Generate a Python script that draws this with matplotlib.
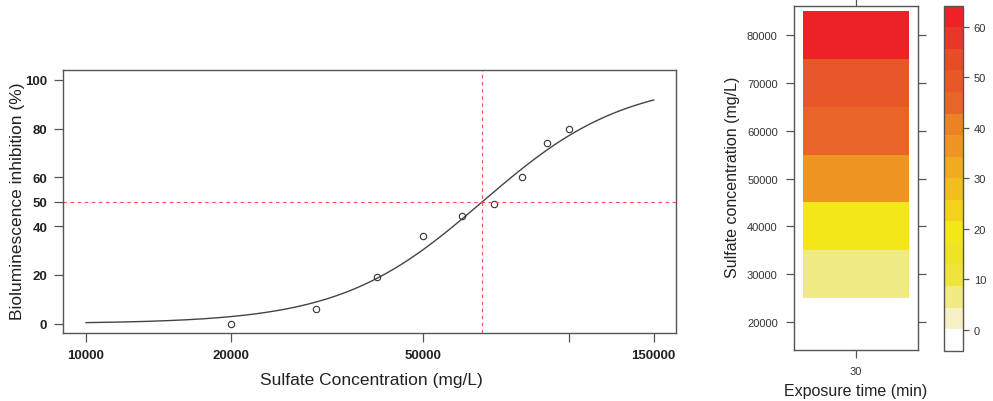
import numpy as np
import matplotlib
matplotlib.use("Agg")
import matplotlib.pyplot as plt
from matplotlib.colors import ListedColormap, BoundaryNorm
import matplotlib.colorbar as mcolorbar

plt.rcParams['font.family'] = ['Liberation Sans', 'DejaVu Sans']

# ---------------- data ----------------
concentration = [20000, 30000, 40000, 50000, 60000, 70000, 80000, 90000, 100000]
inhibition = [0, 6, 19, 36, 44, 49, 60, 74, 80]

# fitted log-logistic dose-response model
ec50 = 66300
hill_slope = 2.94
fit_lower, fit_upper = 0, 100
curve_range = (10000, 150000)

x_ticks = [10000, 20000, 50000, 100000, 150000]
x_ticklabels = ['10000', '20000', '50000', '', '150000']
y_ticks = [0, 20, 40, 50, 60, 80, 100]

# heat map (exposure time 30 min)
exposure_time = [30]
heat_conc = [20000, 30000, 40000, 50000, 60000, 70000, 80000]
heat_values = [0, 6, 19, 36, 44, 49, 60]
heat_yticks = [20000, 30000, 40000, 50000, 60000, 70000, 80000]
cbar_ticks = [0, 10, 20, 30, 40, 50, 60]

# 16 colour regions (white -> yellow -> red)
region_colors = ['#FFFFFF', '#F6F2C6', '#F1EB86', '#EEE43C', '#EFE325', '#F3E619',
                 '#F2D21A', '#F1BE1D', '#F0AC1F', '#EF9622', '#EC8223', '#E96427',
                 '#E85727', '#E84C27', '#E9362A', '#EC2227']

W, H = 993, 402
fig = plt.figure(figsize=(W / 100, H / 100), dpi=100)

def rect(l, t, r, b):
    return [l / W, 1 - b / H, (r - l) / W, (b - t) / H]

txt = '#222222'
frame = '#555555'

# ---------------- left: dose-response ----------------
ax = fig.add_axes(rect(63.3, 71, 676.3, 334.3))
ax.set_xscale('log')
xc = np.geomspace(curve_range[0], curve_range[1], 300)
yc = fit_lower + (fit_upper - fit_lower) / (1 + (xc / ec50) ** (-hill_slope))
ax.plot(xc, yc, color='#444444', lw=1.0)
ax.plot(concentration, inhibition, 'o', mfc='none', mec='#333333', ms=4.6, mew=0.8)
ax.axvline(ec50, color='#F25858', lw=0.85, ls=(0, (3, 3)))
ax.axhline(50, color='#F25858', lw=0.85, ls=(0, (3, 3)))

lx0, lx1 = np.log10(curve_range[0]), np.log10(curve_range[1])
pad = 0.04 * (lx1 - lx0)
ax.set_xlim(10 ** (lx0 - pad), 10 ** (lx1 + pad))
ax.set_ylim(-4, 104)
ax.xaxis.set_minor_locator(matplotlib.ticker.NullLocator())
ax.set_xticks(x_ticks)
ax.set_xticklabels(x_ticklabels)
ax.set_yticks(y_ticks)
ax.set_yticklabels([str(v) for v in y_ticks])
ax.tick_params(axis='both', length=6.5, width=0.9, color=frame, direction='out',
               labelsize=9.5, labelcolor=txt, pad=5)
for lab in ax.get_xticklabels() + ax.get_yticklabels():
    lab.set_fontweight('bold')
for s in ax.spines.values():
    s.set_color(frame)
    s.set_linewidth(1.0)

fig.text(371 / W, 1 - 381 / H, 'Sulfate Concentration (mg/L)', ha='center', va='center',
         fontsize=12.5, color=txt)
fig.text(18 / W, 1 - 201 / H, 'Bioluminescence inhibition (%)', ha='center', va='center',
         rotation=90, fontsize=12.5, color=txt)

# ---------------- right: level plot ----------------
zmin, zmax = min(heat_values), max(heat_values)
zpad = 0.07 * (zmax - zmin)
breaks = np.linspace(zmin - zpad, zmax + zpad, len(region_colors) + 1)
cmap = ListedColormap(region_colors)
norm = BoundaryNorm(breaks, cmap.N)

axh = fig.add_axes(rect(793.7, 7, 917.7, 351))
hc = np.array(heat_conc, dtype=float)
step = hc[1] - hc[0]
yedges = np.concatenate([hc - step / 2, [hc[-1] + step / 2]])
xedges = np.array([exposure_time[0] - 0.5, exposure_time[0] + 0.5])
Z = np.array(heat_values, dtype=float).reshape(-1, 1)
axh.pcolormesh(xedges, yedges, Z, cmap=cmap, norm=norm, edgecolors='none',
               antialiased=False)
axh.set_xlim(exposure_time[0] - 0.587, exposure_time[0] + 0.587)
axh.set_ylim(14220, 85990)
axh.set_xticks(exposure_time)
axh.set_xticklabels([str(v) for v in exposure_time])
axh.set_yticks(heat_yticks)
axh.set_yticklabels([str(v) for v in heat_yticks])
axh.tick_params(axis='both', length=5.5, width=0.9, color=frame, direction='out',
                labelsize=8, labelcolor='#333333', pad=6, right=True, top=True)
for s in axh.spines.values():
    s.set_color(frame)
    s.set_linewidth(1.0)

fig.text(855.5 / W, 1 - 391.5 / H, 'Exposure time (min)', ha='center', va='center',
         fontsize=11.5, color=txt)
fig.text(733 / W, 1 - 177 / H, 'Sulfate concentration (mg/L)', ha='center', va='center',
         rotation=90, fontsize=11.5, color=txt)

# ---------------- colour key ----------------
cax = fig.add_axes(rect(943.7, 6.7, 963.3, 351.7))
cb = mcolorbar.ColorbarBase(cax, cmap=cmap, norm=norm, boundaries=breaks,
                            ticks=cbar_ticks, spacing='proportional')
cb.minorticks_off()
cb.outline.set_edgecolor(frame)
cb.outline.set_linewidth(1.0)
cax.yaxis.set_minor_locator(matplotlib.ticker.NullLocator())
cax.tick_params(which='major', length=4.5, width=0.9, color=frame, labelsize=8,
                labelcolor='#333333', pad=3)

fig.savefig('out.png', dpi=100)
